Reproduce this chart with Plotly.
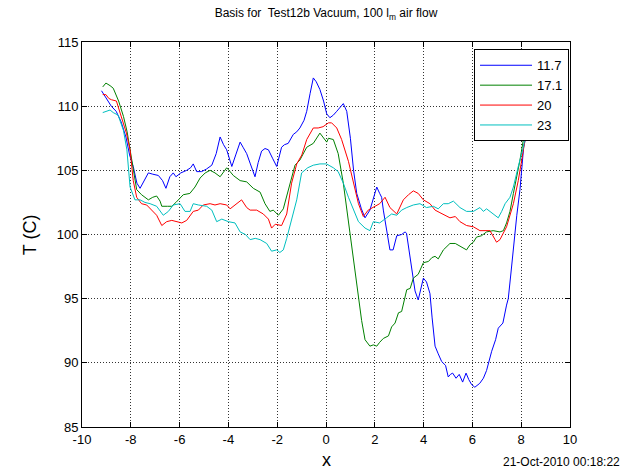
import plotly.graph_objects as go

# Temperature profiles along x for four settings
x_117 = [-9.2, -9.0, -8.8, -8.6, -8.4, -8.2, -8.05, -7.9, -7.75, -7.62,
         -7.45, -7.28, -7.1, -6.87, -6.7, -6.56, -6.4, -6.26, -6.15, -5.95,
         -5.71, -5.55, -5.44, -5.3, -5.1, -4.9, -4.68, -4.5, -4.34, -4.2,
         -4.07, -3.86, -3.7, -3.52, -3.4, -3.25, -3.1, -2.91, -2.78, -2.64,
         -2.5, -2.36, -2.18, -2.02, -1.82, -1.7, -1.55, -1.34, -1.2, -1.07,
         -0.9, -0.79, -0.65, -0.52, -0.4, -0.25, -0.1, 0.03, 0.16, 0.3,
         0.44, 0.6, 0.71, 0.85, 1.0, 1.13, 1.26, 1.45, 1.6, 1.8,
         1.95, 2.08, 2.2, 2.28, 2.35, 2.5, 2.62, 2.75, 2.9, 3.1,
         3.24, 3.3, 3.45, 3.65, 3.78, 3.9, 3.99, 4.12, 4.26, 4.35,
         4.47, 4.6, 4.74, 4.9, 5.01, 5.1, 5.19, 5.33, 5.46, 5.6,
         5.74, 5.85, 5.97, 6.1, 6.3, 6.45, 6.58, 6.79, 6.95, 7.06,
         7.25, 7.4, 7.47, 7.58, 7.68, 7.82, 7.95, 8.1, 8.28, 8.45]
t_117 = [111.2, 110.6, 110.0, 109.6, 108.8, 107.6, 106.2, 105.3, 104.0, 103.6,
         104.2, 104.8, 104.7, 104.6, 104.2, 103.6, 104.5, 104.8, 104.5, 104.8,
         105.0, 105.2, 105.5, 104.9, 104.9, 105.1, 105.4, 106.3, 107.6, 107.0,
         106.6, 105.3, 106.2, 107.2, 106.8, 106.3, 105.5, 104.5, 105.6, 106.5,
         106.7, 106.6, 105.9, 105.3, 106.8, 107.0, 107.1, 107.8, 108.0, 108.3,
         108.9, 109.6, 111.0, 112.2, 111.9, 111.3, 110.4, 109.4, 109.1, 109.3,
         109.6, 110.0, 110.2, 109.6, 107.5, 105.0, 103.2, 102.0, 101.3, 101.9,
         102.8, 103.7, 103.2, 102.9, 101.9, 100.3, 98.8, 98.8, 99.9, 100.0,
         100.2, 100.1, 98.0, 95.6, 94.9, 95.8, 96.6, 96.3, 95.4, 93.5,
         91.3, 90.7, 90.1, 89.8, 88.9, 89.1, 89.2, 88.8, 89.1, 88.5,
         89.2, 88.7, 88.3, 88.1, 88.4, 88.8, 89.4, 90.9, 91.8, 92.7,
         93.1, 94.5, 95.0, 97.0, 99.0, 101.5, 103.5, 106.8, 108.4, 110.5]

x_171 = [-9.15, -9.02, -8.85, -8.72, -8.5, -8.3, -8.15, -8.03, -7.9, -7.76,
         -7.56, -7.4, -7.28, -7.1, -6.94, -6.8, -6.73, -6.5, -6.32, -6.15,
         -6.0, -5.85, -5.58, -5.37, -5.16, -4.95, -4.75, -4.55, -4.34, -4.2,
         -4.07, -3.93, -3.8, -3.52, -3.25, -2.98, -2.7, -2.5, -2.3, -2.16,
         -1.95, -1.75, -1.55, -1.4, -1.27, -1.07, -0.93, -0.79, -0.52, -0.25,
         0.03, 0.1, 0.3, 0.5, 0.71, 0.85, 0.98, 1.12, 1.26, 1.46,
         1.6, 1.8, 1.94, 2.08, 2.2, 2.35, 2.56, 2.69, 2.83, 2.97,
         3.1, 3.17, 3.31, 3.45, 3.58, 3.78, 3.99, 4.2, 4.34, 4.47,
         4.6, 4.81, 5.08, 5.3, 5.5, 5.76, 5.9, 6.04, 6.17, 6.37,
         6.58, 6.85, 7.13, 7.27, 7.4, 7.54, 7.68, 7.82, 7.95, 8.09,
         8.25, 8.45]
t_171 = [111.5, 111.8, 111.6, 111.4, 110.4, 109.2, 108.0, 106.6, 105.0, 103.5,
         103.1, 102.9, 102.7, 102.9, 103.0, 102.6, 102.2, 102.2, 102.2, 102.5,
         102.8, 103.1, 103.2, 103.7, 104.4, 104.8, 105.0, 104.8, 104.5, 104.9,
         105.2, 104.9, 104.6, 104.2, 104.1, 103.6, 103.3, 102.4, 101.8, 101.9,
         101.5, 102.0, 103.5, 104.6, 105.4, 105.8, 106.3, 106.8, 107.1, 107.9,
         107.2, 107.5, 107.4, 106.3, 104.0, 102.0, 100.0, 98.0, 96.4, 93.3,
         91.8, 91.3, 91.4, 91.3, 91.6, 91.9, 92.1, 92.8, 93.1, 93.9,
         94.0, 94.5, 95.7, 95.8, 96.6, 96.9, 97.8, 97.9, 98.2, 98.3,
         98.1, 98.8, 99.3, 99.3, 99.1, 98.8, 99.2, 99.4, 99.8, 99.9,
         100.2, 100.3, 100.2, 100.3, 100.9, 101.8, 103.2, 104.5, 105.8, 107.4,
         109.0, 111.0]

x_20 = [-9.15, -9.02, -8.9, -8.79, -8.59, -8.38, -8.18, -8.03, -7.9, -7.76,
        -7.56, -7.35, -7.15, -6.94, -6.73, -6.53, -6.32, -6.12, -5.91, -5.71,
        -5.44, -5.23, -5.03, -4.75, -4.55, -4.34, -4.07, -3.93, -3.73, -3.46,
        -3.25, -3.11, -2.84, -2.57, -2.36, -2.23, -2.08, -1.82, -1.61, -1.41,
        -1.2, -0.99, -0.79, -0.52, -0.32, -0.12, 0.1, 0.23, 0.44, 0.64,
        0.92, 1.12, 1.33, 1.53, 1.73, 2.01, 2.2, 2.42, 2.62, 2.9,
        3.17, 3.38, 3.58, 3.78, 3.99, 4.26, 4.47, 4.67, 4.88, 5.08,
        5.3, 5.49, 5.76, 6.04, 6.31, 6.45, 6.72, 6.93, 6.99, 7.13,
        7.4, 7.68, 7.88, 8.09, 8.25, 8.45]
t_20 = [110.9, 110.9, 110.6, 110.5, 110.4, 109.2, 107.9, 106.6, 104.2, 102.9,
        102.4, 102.3, 101.9, 101.5, 100.7, 101.0, 101.1, 101.0, 100.9, 101.1,
        101.8, 101.9, 102.3, 102.4, 102.3, 102.4, 102.3, 102.0, 102.3, 102.7,
        102.1, 101.9, 101.9, 101.6, 101.2, 100.5, 100.8, 100.7, 101.6, 104.0,
        105.5, 106.2, 107.4, 108.3, 108.3, 108.4, 108.7, 108.7, 108.3, 107.4,
        105.7, 104.0, 102.4, 101.4, 101.9, 102.2, 102.4, 102.9, 102.1, 101.6,
        102.7, 103.1, 103.4, 103.2, 102.7, 102.4, 101.9, 101.7, 101.5, 101.3,
        101.4, 101.0, 100.7, 100.6, 100.3, 100.3, 100.3, 99.6, 99.4, 99.6,
        100.6, 102.4, 104.2, 106.6, 108.5, 110.8]

x_23 = [-9.15, -9.0, -8.85, -8.72, -8.52, -8.3, -8.16, -8.03, -7.83, -7.62,
        -7.42, -7.21, -6.94, -6.67, -6.46, -6.26, -5.98, -5.78, -5.57, -5.44,
        -5.23, -4.89, -4.68, -4.48, -4.27, -4.0, -3.73, -3.52, -3.3, -3.11,
        -2.9, -2.7, -2.43, -2.23, -2.02, -1.89, -1.75, -1.61, -1.41, -1.2,
        -1.0, -0.75, -0.52, -0.25, 0.02, 0.3, 0.5, 0.71, 0.92, 1.12,
        1.33, 1.6, 1.8, 1.94, 2.2, 2.48, 2.69, 2.9, 3.1, 3.31,
        3.58, 3.85, 4.12, 4.4, 4.6, 4.81, 5.01, 5.22, 5.49, 5.76,
        6.04, 6.31, 6.45, 6.58, 6.78, 7.06, 7.2, 7.34, 7.54, 7.68,
        7.88, 8.09, 8.25, 8.45]
t_23 = [109.5, 109.6, 109.7, 109.5, 109.3, 108.1, 106.6, 103.7, 102.7, 102.7,
        102.5, 102.4, 102.2, 101.5, 101.8, 102.3, 102.4, 101.8, 101.8, 102.4,
        102.3, 102.2, 101.9, 101.0, 101.2, 101.0, 100.9, 100.2, 100.0, 99.6,
        99.7, 99.6, 99.3, 98.7, 98.8, 98.6, 98.8, 99.7, 101.1, 102.7,
        104.8, 105.2, 105.4, 105.5, 105.5, 105.2, 104.9, 104.0, 102.9, 101.9,
        101.0, 100.5, 100.3, 101.0, 100.9, 101.3, 101.6, 101.5, 101.9, 102.1,
        102.3, 102.4, 102.1, 102.2, 102.0, 102.4, 102.4, 102.6, 102.1, 101.8,
        101.8, 102.1, 101.8, 102.0, 101.7, 101.3, 101.8, 102.4, 102.9, 103.7,
        105.3, 106.8, 108.6, 110.6]

series_names = ["11.7", "17.1", "20", "23"]
series_colors = ["#0000FF", "#008000", "#FF0000", "#00BFBF"]
series_x = [x_117, x_171, x_20, x_23]
series_t = [t_117, t_171, t_20, t_23]

# Axis ticks (labels use a plain hyphen for negatives)
x_ticks = [-10, -8, -6, -4, -2, 0, 2, 4, 6, 8, 10]
x_ticklabels = ["-10", "-8", "-6", "-4", "-2", "0", "2", "4", "6", "8", "10"]
y_ticks = [85, 90, 95, 100, 105, 110, 115]
y_ticklabels = ["85", "90", "95", "100", "105", "110", "115"]

FONT = "Liberation Sans, Arial, sans-serif"

fig = go.Figure()
for name, color, xs, ts in zip(series_names, series_colors, series_x, series_t):
    fig.add_trace(go.Scatter(x=xs, y=ts, mode="lines", name=name,
                             line=dict(color=color, width=1)))

axis_common = dict(
    showline=True, linecolor="black", linewidth=1, mirror="ticks",
    ticks="inside", ticklen=5, tickcolor="black", tickwidth=1,
    showgrid=True, gridcolor="#333333", gridwidth=1, griddash="1px,2px",
    zeroline=False, tickfont=dict(family=FONT, size=13, color="black"),
)

fig.update_layout(
    width=628, height=474,
    margin=dict(l=82, r=58, t=42, b=47),
    paper_bgcolor="white", plot_bgcolor="white",
    font=dict(family=FONT, color="black"),
    title=dict(text="Basis for  Test12b Vacuum, 100 l<sub>m</sub> air flow",
               x=0.5, xref="paper", xanchor="center",
               y=0.972, yref="container", yanchor="middle",
               font=dict(family=FONT, size=12, color="black")),
    xaxis=dict(range=[-10, 10], tickmode="array", tickvals=x_ticks,
               ticktext=x_ticklabels, **axis_common),
    yaxis=dict(range=[85, 115], tickmode="array", tickvals=y_ticks,
               ticktext=y_ticklabels, **axis_common),
    legend=dict(x=0.998, y=0.981, xanchor="right", yanchor="top",
                bgcolor="white", bordercolor="black", borderwidth=1,
                font=dict(family=FONT, size=13, color="black"),
                itemwidth=52, tracegroupgap=0),
    showlegend=True,
)

fig.add_annotation(text="T (C)", xref="paper", yref="paper",
                   x=-0.107, y=0.5, textangle=-90, showarrow=False,
                   xanchor="center", yanchor="middle",
                   font=dict(family=FONT, size=18, color="black"))
fig.add_annotation(text="x", xref="paper", yref="paper",
                   x=0.5, y=-0.085, showarrow=False,
                   xanchor="center", yanchor="middle",
                   font=dict(family=FONT, size=18, color="black"))
fig.add_annotation(text="21-Oct-2010 00:18:22", xref="paper", yref="paper",
                   x=1.107, y=-0.091, showarrow=False,
                   xanchor="right", yanchor="middle",
                   font=dict(family=FONT, size=12, color="black"))

fig.write_html("out.html")
